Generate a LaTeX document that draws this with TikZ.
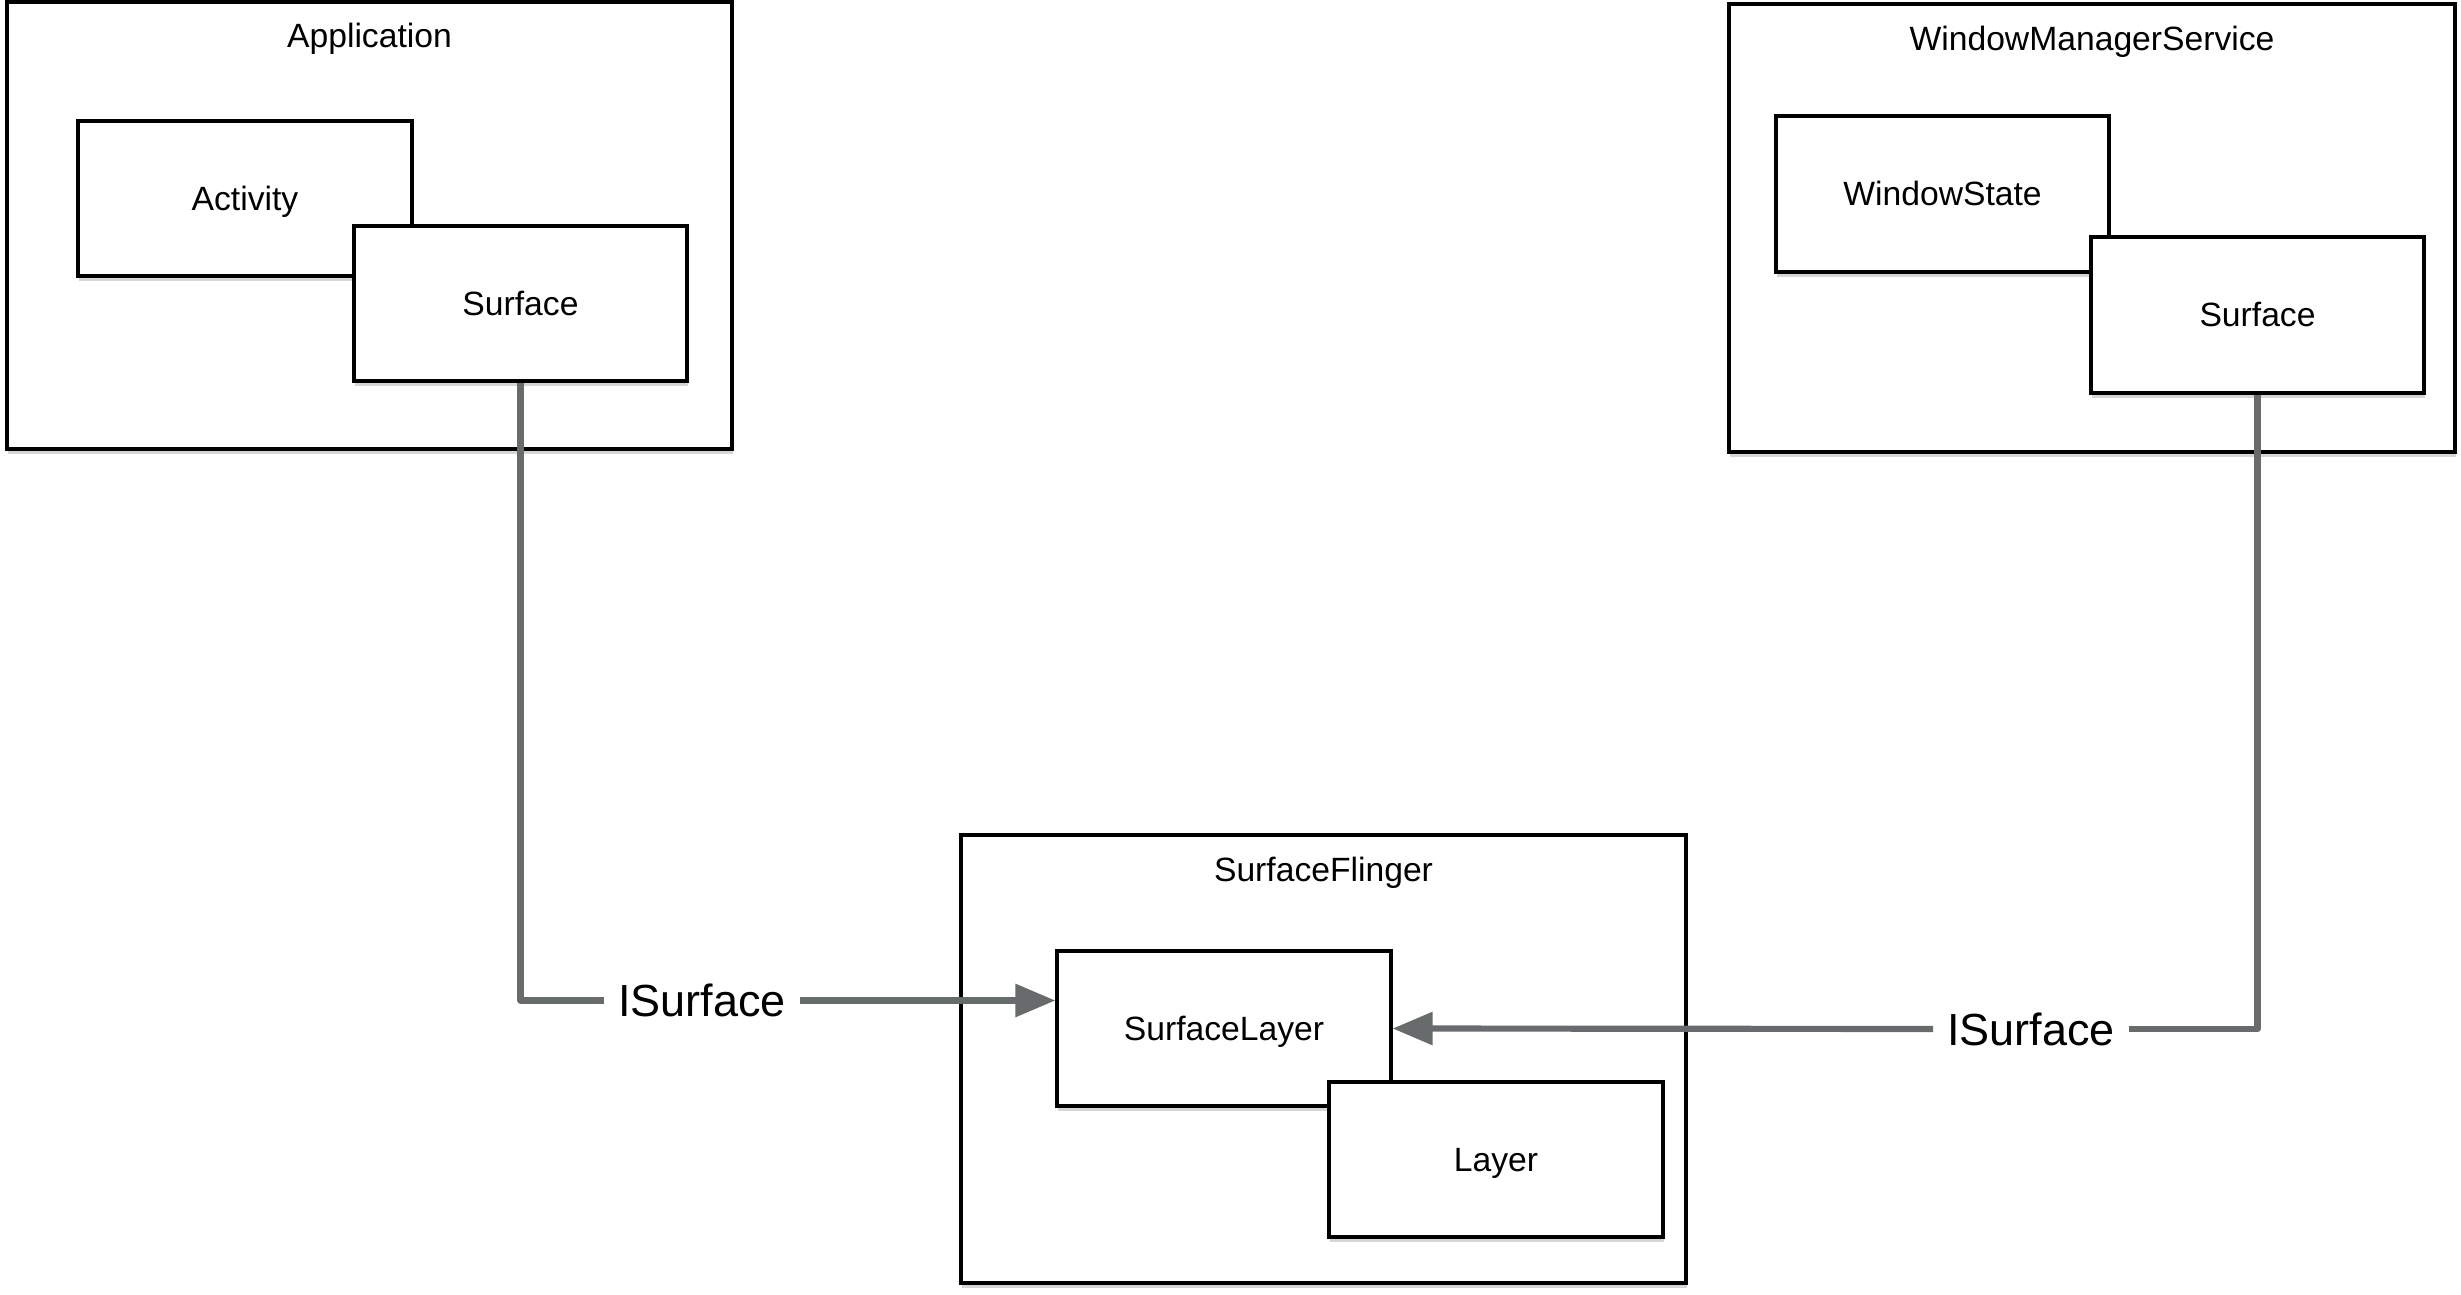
\documentclass[tikz,border=0pt]{standalone}
\usepackage{fontspec}
\setmainfont{Liberation Sans}
\usetikzlibrary{arrows.meta,shadows}
\definecolor{conn}{HTML}{686B6C}
\tikzset{
  lbl/.style={font=\fontsize{10.1pt}{12pt}\selectfont, text height=7.2pt, text depth=0pt},
  box/.style={lbl, draw=black, fill=white, line width=1pt, inner sep=0pt,
    drop shadow={shadow xshift=0.4pt, shadow yshift=-1.6pt, opacity=0.16, fill=black}},
  title/.style={lbl, inner sep=0pt},
  iface/.style={inner ysep=2pt, inner xsep=4pt, font=\fontsize{13.5pt}{16pt}\selectfont,
    text height=9.7pt, text depth=0pt},
  conline/.style={draw=conn, line width=1.85pt, line join=round},
  conarrow/.style={conline, -{Triangle[length=12pt, width=9.6pt]}, fill=conn}
}
\begin{document}
\begin{tikzpicture}[x=0.3pt, y=-0.3pt]
\useasboundingbox (0,0) rectangle (2461,1295);
% containers
\node[box, minimum width=217.5pt, minimum height=134.1pt] (app) at (369.5,225.5) {};
\node[title] (apptitle) at (369.5,35.5) {Application};
\node[box, minimum width=217.8pt, minimum height=134.4pt] (wms) at (2092,228) {};
\node[title] (wmstitle) at (2092,38.5) {WindowManagerService};
\node[box, minimum width=217.5pt, minimum height=134.4pt] (sf) at (1323.5,1059) {};
\node[title] (sftitle) at (1323.5,869.5) {SurfaceFlinger};
% inner boxes
\node[box, minimum width=100.2pt, minimum height=46.5pt] (act) at (245,198.5) {Activity};
\node[box, minimum width=99.9pt, minimum height=46.5pt] (surf1) at (520.5,303.5) {Surface};
\node[box, minimum width=99.9pt, minimum height=46.8pt] (ws) at (1942.5,194) {WindowState};
\node[box, minimum width=99.9pt, minimum height=46.8pt] (surf2) at (2257.5,315) {Surface};
\node[box, minimum width=100.2pt, minimum height=46.5pt] (sl) at (1224,1028.5) {SurfaceLayer};
\node[box, minimum width=100.2pt, minimum height=46.5pt] (layer) at (1496,1159.5) {Layer};
% interface labels
\node[iface] (i1) at (702,1000.5) {ISurface};
\node[iface] (i2) at (2031,1029) {ISurface};
% connectors
\draw[conline] (surf1.south) |- (i1.west);
\draw[conarrow] (i1.east) -- (i1.east -| sl.west);
\draw[conline] (surf2.south) |- (i2.east);
\draw[conarrow] (i2.west) -- (sl.east);
\end{tikzpicture}
\end{document}
